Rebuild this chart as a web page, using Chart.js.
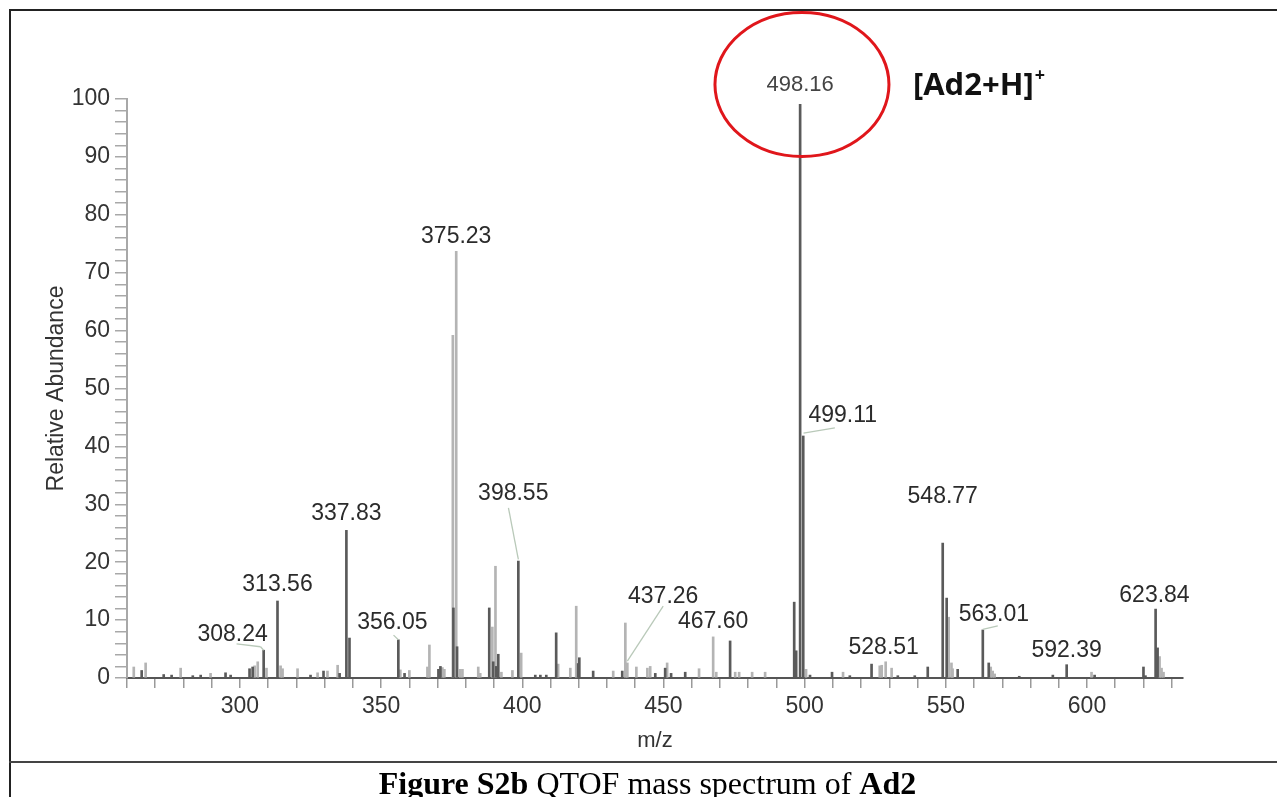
<!DOCTYPE html>
<html>
<head>
<meta charset="utf-8">
<script src="https://cdn.jsdelivr.net/npm/chart.js@4.4.0/dist/chart.umd.min.js"></script>
<style>
    html, body { margin: 0; padding: 0; background: #fff; }
    body { width: 1277px; height: 797px; position: relative; overflow: hidden; }
    #chartBox { position: absolute; left: 0; top: 0; width: 1277px; height: 797px; }
    .frame { position: absolute; left: 9px; top: 9px; width: 1300px; height: 800px;
             border-left: 2px solid #222; border-top: 2px solid #222; pointer-events: none; }
    .rule { position: absolute; left: 9px; top: 761px; width: 1300px; border-top: 2px solid #444; }
    .caption { position: absolute; left: 0; top: 767px; width: 1295px; text-align: center;
               font-family: 'Liberation Serif', 'Times New Roman', serif; font-size: 32px;
               line-height: 32px; color: #000; white-space: nowrap; }
</style>
</head>
<body>
<div id="chartBox"><canvas id="msChart"></canvas></div>
<div class="frame"></div>
<div class="rule"></div>
<div class="caption"><b>Figure S2b</b> QTOF mass spectrum of <b>Ad2</b></div>

<script>
// 濃いピーク (m/z, 相対強度)
const darkMz = [265.2, 273.0, 275.8, 283.3, 286.1, 294.9, 296.7, 303.4, 304.5, 308.4,
    313.3, 325.0, 329.6, 335.3, 337.7, 338.8, 356.1, 358.3, 370.3, 371.0,
    375.6, 376.9, 388.3, 389.7, 390.8, 391.5, 398.6, 404.6, 406.4, 408.5,
    412.0, 419.8, 420.2, 425.1, 435.4, 447.1, 450.6, 452.7, 457.7, 473.6,
    496.3, 497.0, 498.4, 499.5, 501.9, 509.7, 516.0, 523.7, 533.0, 539.0,
    543.6, 548.9, 550.3, 554.2, 563.1, 565.2, 576.0, 587.9, 592.8, 602.7,
    620.0, 620.7, 624.3, 625.0];
const darkAbund = [1.3, 0.6, 0.5, 0.4, 0.5, 0.9, 0.5, 1.6, 1.9, 4.8,
    13.3, 0.5, 1.2, 0.8, 25.5, 6.9, 6.6, 0.8, 1.5, 2.0,
    12.1, 5.4, 12.1, 2.8, 2.0, 4.1, 20.2, 0.5, 0.5, 0.5,
    7.8, 2.5, 3.5, 1.2, 1.2, 0.8, 1.7, 0.8, 1.0, 6.4,
    13.1, 4.7, 99.1, 41.8, 0.5, 1.0, 0.4, 2.4, 0.4, 0.4,
    1.9, 23.3, 13.8, 1.5, 8.3, 2.6, 0.3, 0.5, 2.3, 0.5,
    1.9, 0.4, 11.9, 5.2];

// 薄いピーク
const lightMz = [262.4, 266.6, 279.0, 289.6, 305.2, 306.3, 309.4, 314.4, 315.1, 320.4,
    327.5, 331.0, 334.6, 356.8, 360.0, 366.4, 367.1, 371.7, 372.4, 375.4,
    376.6, 378.0, 378.8, 384.4, 385.1, 389.4, 390.5, 392.6, 396.5, 399.6,
    412.7, 417.0, 419.1, 432.2, 436.5, 437.2, 440.4, 444.3, 445.3, 451.3,
    462.6, 467.6, 468.7, 475.4, 476.8, 481.4, 486.0, 500.5, 513.6, 526.6,
    527.3, 528.7, 530.8, 551.0, 552.0, 552.4, 565.9, 566.6, 567.3, 601.6,
    625.7, 626.4, 627.1];
const lightAbund = [1.9, 2.6, 1.7, 0.8, 2.1, 2.8, 1.7, 2.1, 1.6, 1.6,
    0.9, 1.2, 2.2, 1.4, 1.3, 1.9, 5.7, 1.8, 1.5, 59.2,
    73.7, 1.5, 1.5, 1.9, 0.8, 8.8, 19.3, 1.0, 1.3, 4.3,
    2.4, 1.7, 12.4, 1.2, 9.5, 2.6, 1.9, 1.7, 2.0, 2.6,
    1.6, 7.1, 1.0, 1.0, 1.0, 1.0, 1.0, 1.5, 1.0, 2.1,
    2.2, 2.8, 1.7, 10.5, 2.6, 1.6, 1.9, 1.2, 0.7, 1.0,
    3.7, 1.7, 1.0];

// ピークラベルと表示位置 (データ座標)
const peakLabels = ['308.24', '313.56', '337.83', '356.05', '375.23', '398.55', '437.26',
    '467.60', '498.16', '499.11', '528.51', '548.77', '563.01', '592.39', '623.84'];
const labelMz = [297.4, 313.3, 337.7, 354.0, 376.6, 396.8, 449.9,
    467.6, 498.4, 513.5, 528.0, 548.9, 567.0, 592.8, 623.9];
const labelAbund = [7.4, 16.1, 28.3, 9.5, 76.2, 31.8, 14.0,
    9.8, 102.4, 45.3, 5.2, 31.3, 10.9, 4.8, 14.2];

// 引き出し線 [m/z1, 強度1, m/z2, 強度2]
const leaderLines = [
    [298.8, 5.9, 307.3, 5.4], [307.3, 5.4, 308.4, 4.8],
    [354.4, 7.4, 356.1, 6.6],
    [395.1, 29.4, 398.6, 20.5],
    [449.9, 12.4, 437.2, 2.9],
    [499.6, 42.3, 510.7, 43.2],
    [563.1, 8.4, 568.4, 9.0]
];

// x軸目盛ラベル (10刻みのうち表示するもの)
const xTickLabels = [300, 350, 400, 450, 500, 550, 600];

Chart.defaults.font.family = "'Liberation Sans', Arial, sans-serif";
Chart.defaults.color = '#333';

const toPoints = (xs, ys) => xs.map((m, i) => ({ x: m, y: ys[i] }));

// ラベル・赤丸・イオン表記を描画
const annotationPlugin = {
    id: 'msAnnotations',
    afterDatasetsDraw(chart) {
        const { ctx, scales: { x, y } } = chart;
        ctx.save();

        ctx.strokeStyle = '#b9c9b9';
        ctx.lineWidth = 1.3;
        leaderLines.forEach(l => {
            ctx.beginPath();
            ctx.moveTo(x.getPixelForValue(l[0]), y.getPixelForValue(l[1]));
            ctx.lineTo(x.getPixelForValue(l[2]), y.getPixelForValue(l[3]));
            ctx.stroke();
        });

        ctx.textAlign = 'center';
        ctx.textBaseline = 'middle';
        peakLabels.forEach((t, i) => {
            const main = t === '498.16';
            ctx.font = (main ? '22px' : '23px') + " 'Liberation Sans', Arial, sans-serif";
            ctx.fillStyle = main ? '#444' : '#2b2b2b';
            ctx.fillText(t, x.getPixelForValue(labelMz[i]), y.getPixelForValue(labelAbund[i]));
        });

        // 赤い楕円
        const cx = x.getPixelForValue(499.05);
        const cy = y.getPixelForValue(102.5);
        ctx.beginPath();
        ctx.ellipse(cx, cy, 87, 72, 0, 0, Math.PI * 2);
        ctx.strokeStyle = '#e0161b';
        ctx.lineWidth = 3;
        ctx.stroke();

        // [Ad2+H]+
        ctx.fillStyle = '#111';
        ctx.textAlign = 'left';
        ctx.textBaseline = 'alphabetic';
        ctx.font = "bold 31px 'Open Sans', 'Noto Sans', sans-serif";
        const ionText = '[Ad2+H]';
        const tx = cx + 111;
        const ty = cy + 10;
        ctx.fillText(ionText, tx, ty);
        const w = ctx.measureText(ionText).width;
        ctx.font = "bold 18px 'Open Sans', 'Noto Sans', sans-serif";
        ctx.fillText('+', tx + w + 1, ty - 14);

        ctx.restore();
    }
};

function initChart() {
    const ctx = document.getElementById('msChart');

    new Chart(ctx, {
        type: 'bar',
        data: {
            datasets: [
                {
                    label: 'dark',
                    data: toPoints(darkMz, darkAbund),
                    backgroundColor: '#5a5a5a',
                    borderWidth: 0,
                    barThickness: 2,
                    grouped: false
                },
                {
                    label: 'light',
                    data: toPoints(lightMz, lightAbund),
                    backgroundColor: '#b4b4b4',
                    borderWidth: 0,
                    barThickness: 2,
                    grouped: false
                }
            ]
        },
        options: {
            responsive: true,
            maintainAspectRatio: false,
            animation: false,
            layout: {
                padding: { left: 0, right: 94, top: 99, bottom: 35 }
            },
            plugins: {
                legend: { display: false },
                tooltip: { enabled: false }
            },
            scales: {
                x: {
                    type: 'linear',
                    min: 260,
                    max: 634,
                    offset: false,
                    afterFit: scale => { scale.height = 84; },
                    ticks: {
                        stepSize: 10,
                        includeBounds: false,
                        autoSkip: false,
                        maxRotation: 0,
                        padding: 5,
                        color: '#333',
                        font: { size: 23 },
                        callback: v => xTickLabels.includes(v) ? String(v) : ''
                    },
                    grid: {
                        offset: false,
                        drawOnChartArea: false,
                        drawTicks: true,
                        tickLength: 10,
                        color: '#9a9a9a',
                        lineWidth: 1.5
                    },
                    border: { display: true, color: '#555', width: 2 },
                    title: {
                        display: true,
                        text: 'm/z',
                        color: '#333',
                        font: { size: 22 },
                        padding: { top: 0, bottom: 8 }
                    }
                },
                y: {
                    min: 0,
                    max: 100,
                    afterFit: scale => { scale.width = 127; },
                    ticks: {
                        stepSize: 2,
                        autoSkip: false,
                        padding: 5,
                        color: '#333',
                        font: { size: 23 },
                        callback: v => v % 10 === 0 ? String(v) : ''
                    },
                    grid: {
                        drawOnChartArea: false,
                        drawTicks: true,
                        tickLength: 12,
                        color: '#a8a8a8',
                        lineWidth: 1.5
                    },
                    border: { display: true, color: '#a8a8a8', width: 2 },
                    title: {
                        display: true,
                        text: 'Relative Abundance',
                        color: '#333',
                        font: { size: 23 },
                        padding: { top: 43, bottom: 0 }
                    }
                }
            }
        },
        plugins: [annotationPlugin]
    });
}

document.addEventListener('DOMContentLoaded', initChart);
</script>
</body>
</html>
